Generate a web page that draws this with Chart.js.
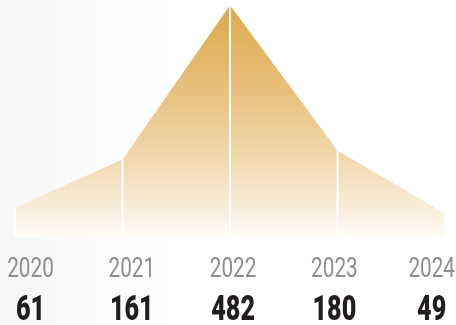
<!DOCTYPE html>
<html>
<head>
<meta charset="utf-8">
<script src="https://cdn.jsdelivr.net/npm/chart.js@4.4.1/dist/chart.umd.min.js"></script>
<style>
  html, body { margin: 0; padding: 0; }
  body {
    width: 456px; height: 325px; overflow: hidden;
    background: linear-gradient(to right, #f5f7f8 0%, #fafaf9 18%, #ffffff 36%);
  }
  #wrap { position: relative; width: 456px; height: 325px; }
</style>
</head>
<body>
<div id="wrap"><canvas id="yearChart"></canvas></div>
<script>
// values
const years = ["2020", "2021", "2022", "2023", "2024"];
const counts = [61, 161, 482, 180, 49];
const countLabels = ["61", "161", "482", "180", "49"];

// white drop lines from each point to the baseline
const dropLines = {
  id: "dropLines",
  afterDatasetsDraw(chart) {
    const { ctx, chartArea } = chart;
    const meta = chart.getDatasetMeta(0);
    ctx.save();
    ctx.strokeStyle = "#ffffff";
    ctx.lineWidth = 2;
    meta.data.forEach(pt => {
      ctx.beginPath();
      ctx.moveTo(pt.x, pt.y);
      ctx.lineTo(pt.x, chartArea.bottom);
      ctx.stroke();
    });
    ctx.restore();
  }
};

const yearFont = { font: "400 28px Roboto", color: "#8d8d8d", squeeze: 0.74 };
const countFont = { font: "900 35px Roboto", color: "#221e1f", squeeze: 0.72 };

function textWidth(ctx, t, f) {
  ctx.font = f.font;
  return ctx.measureText(t).width * f.squeeze;
}

function drawText(ctx, t, x, y, f) {
  ctx.save();
  ctx.font = f.font;
  ctx.fillStyle = f.color;
  ctx.textAlign = "center";
  ctx.textBaseline = "alphabetic";
  ctx.translate(x, y);
  ctx.scale(f.squeeze, 1);
  ctx.fillText(t, 0, 0);
  ctx.restore();
}

// condensed year / count columns, placed on the hidden "xl" scale
const labelRows = {
  id: "labelRows",
  afterDraw(chart) {
    const ctx = chart.ctx;
    const xs = chart.scales.xl;
    const b = chart.chartArea.bottom;
    years.forEach((yr, i) => {
      const w = Math.max(textWidth(ctx, yr, yearFont), textWidth(ctx, countLabels[i], countFont));
      const x = Math.min(xs.getPixelForValue(i), chart.width - 1 - w / 2);
      drawText(ctx, yr, x, b + 40, yearFont);
      drawText(ctx, countLabels[i], x, b + 83, countFont);
    });
  }
};

function fillGradient(context) {
  const { ctx, chartArea } = context.chart;
  if (!chartArea) return "#eccb8f";
  const g = ctx.createLinearGradient(0, chartArea.top, 0, chartArea.bottom);
  g.addColorStop(0, "#dba747");
  g.addColorStop(0.45, "#eac587");
  g.addColorStop(0.7, "#f2dcb5");
  g.addColorStop(0.9, "#faefde");
  g.addColorStop(1, "#fffcf8");
  return g;
}

const ctx = document.getElementById("yearChart").getContext("2d");
new Chart(ctx, {
  type: "line",
  data: {
    labels: years,
    datasets: [{
      data: counts,
      fill: "origin",
      backgroundColor: fillGradient,
      borderWidth: 0,
      pointRadius: 0,
      tension: 0
    }]
  },
  plugins: [dropLines, labelRows],
  options: {
    responsive: true,
    maintainAspectRatio: false,
    animation: false,
    layout: { padding: { left: 15, right: 11, top: 0, bottom: 88 } },
    plugins: { legend: { display: false }, tooltip: { enabled: false } },
    scales: {
      x: { type: "category", display: false, offset: false },
      y: { display: false, min: 0, max: 493 },
      xl: { type: "linear", position: "bottom", display: false, min: -0.153, max: 4.092 }
    }
  }
});
</script>
</body>
</html>
